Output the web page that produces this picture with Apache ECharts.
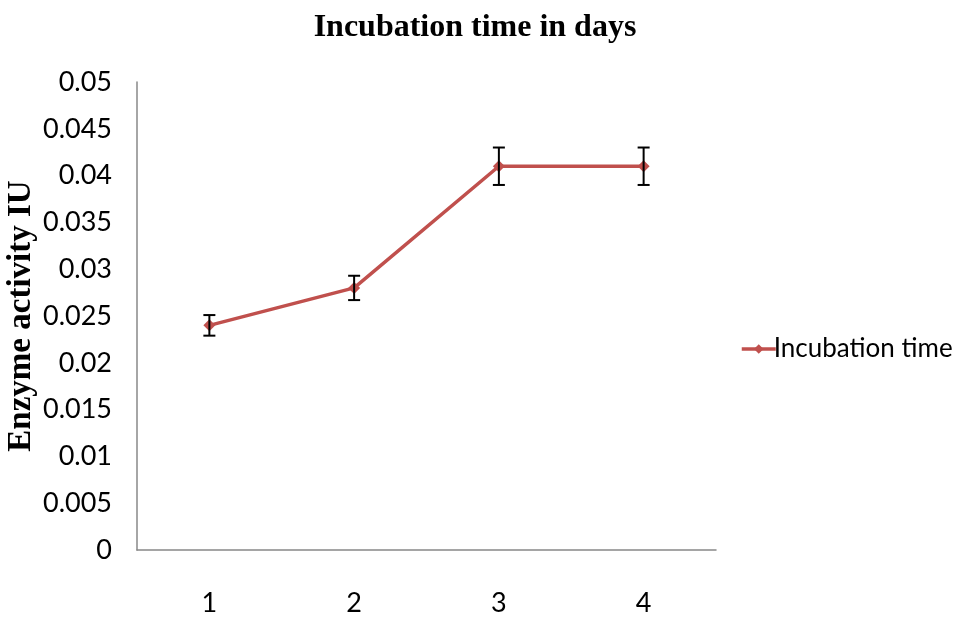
<!DOCTYPE html>
<html><head><meta charset="utf-8">
<script src="https://cdn.jsdelivr.net/npm/echarts@6/dist/echarts.min.js"></script>
<style>html,body{margin:0;padding:0;background:#fff}#c{width:956px;height:618px}</style>
</head><body><div id="c"></div>
<script>
var categories = ['1', '2', '3', '4'];
var values = [0.024, 0.028, 0.041, 0.041];
var errors = [0.0011, 0.0013, 0.002, 0.002];
var seriesName = 'Incubation time';

var chart = echarts.init(document.getElementById('c'));
var errData = categories.map(function (c, i) { return [i, values[i] - errors[i], values[i] + errors[i]]; });
chart.setOption({
  animation: false,
  backgroundColor: '#fff',
  title: {
    text: 'Incubation time in days', left: 470, top: 7, textAlign: 'center',
    textStyle: { fontFamily: 'Liberation Serif', fontWeight: 'bold', fontSize: 32, color: '#000' }
  },
  legend: {
    orient: 'vertical', left: 735, top: 331, itemWidth: 34, itemHeight: 12, itemGap: 4,
    data: [seriesName],
    lineStyle: { width: 3.5 },
    textStyle: { fontFamily: 'Lato', fontSize: 26, color: '#000', padding: [0, 0, 0, -7] }
  },
  grid: { left: 137, right: 240, top: 82, bottom: 68, outerBoundsMode: 'none' },
  xAxis: {
    type: 'category', data: categories, boundaryGap: true,
    axisLine: { lineStyle: { color: '#888', width: 1.5 } },
    axisTick: { show: false },
    axisLabel: { margin: 40, fontFamily: 'Lato', fontSize: 27, color: '#000' }
  },
  yAxis: {
    type: 'value', min: 0, max: 0.05, interval: 0.005,
    name: 'Enzyme activity IU', nameLocation: 'middle', nameGap: 99, nameMoveOverlap: false,
    nameTextStyle: { fontFamily: 'Liberation Serif', fontWeight: 'bold', fontSize: 33, color: '#000' },
    axisLine: { show: true, lineStyle: { color: '#888', width: 1.5 } },
    axisTick: { show: false },
    splitLine: { show: false },
    axisLabel: { margin: 25, fontFamily: 'Lato', fontSize: 27, color: '#000' }
  },
  series: [
    {
      name: seriesName, type: 'line', data: values,
      symbol: 'diamond', symbolSize: 12,
      lineStyle: { color: '#C0504D', width: 3.5 },
      itemStyle: { color: '#C0504D' }
    },
    {
      type: 'custom', data: errData, z: 5,
      renderItem: function (params, api) {
        var x = api.value(0);
        var lo = api.coord([x, api.value(1)]);
        var hi = api.coord([x, api.value(2)]);
        var w = 6;
        var st = { stroke: '#000', lineWidth: 2 };
        return { type: 'group', children: [
          { type: 'line', shape: { x1: hi[0], y1: hi[1], x2: lo[0], y2: lo[1] }, style: st },
          { type: 'line', shape: { x1: hi[0] - w, y1: hi[1], x2: hi[0] + w, y2: hi[1] }, style: st },
          { type: 'line', shape: { x1: lo[0] - w, y1: lo[1], x2: lo[0] + w, y2: lo[1] }, style: st }
        ] };
      }
    }
  ]
});
</script></body></html>
